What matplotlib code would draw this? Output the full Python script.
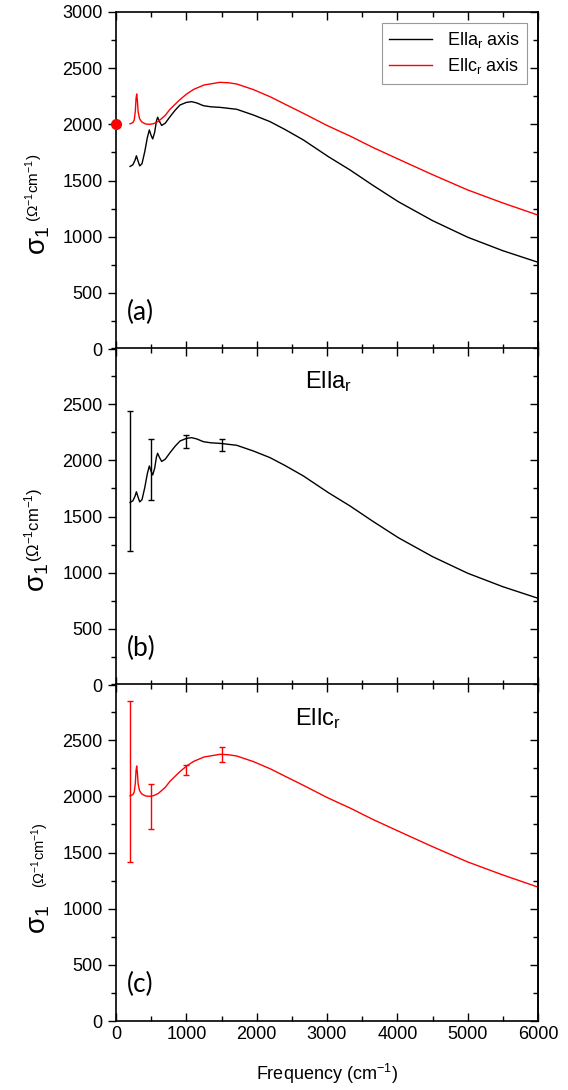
import matplotlib.pyplot as plt
import numpy as np
from matplotlib.ticker import MultipleLocator

plt.rcParams['font.family'] = ['Liberation Sans', 'DejaVu Sans']
plt.rcParams['mathtext.default'] = 'regular'

# sigma_1 along E || a_r (cm^-1, Ohm^-1 cm^-1)
freq_a = [200, 240, 270, 290, 310, 337, 370, 410, 445, 474, 500, 522, 550,
          575, 592, 615, 649, 700, 768, 840, 910, 1000, 1076, 1150, 1242,
          1350, 1479, 1716, 1953, 2190, 2400, 2664, 3020, 3327, 3650, 4015,
          4500, 5000, 5500, 6000]
sigma_a = [1625, 1640, 1680, 1720, 1680, 1630, 1650, 1760, 1880, 1950, 1900,
           1870, 1930, 2030, 2063, 2030, 1990, 2010, 2068, 2125, 2172, 2195,
           2202, 2190, 2166, 2156, 2151, 2134, 2083, 2024, 1955, 1861, 1712,
           1594, 1458, 1311, 1143, 995, 875, 772]

# sigma_1 along E || c_r
freq_c = [200, 240, 260, 275, 285, 294, 303, 315, 335, 365, 420, 480, 530,
          600, 700, 768, 900, 1000, 1100, 1250, 1479, 1600, 1716, 1950, 2190,
          2400, 2664, 3000, 3327, 3650, 4015, 4500, 5000, 5500, 6000]
sigma_c = [2005, 2015, 2040, 2120, 2230, 2270, 2220, 2110, 2050, 2022, 2003,
           2000, 2005, 2025, 2080, 2134, 2215, 2268, 2310, 2350, 2374, 2370,
           2359, 2310, 2246, 2180, 2098, 1990, 1896, 1795, 1690, 1552, 1416,
           1300, 1192]

# error bar ranges
err_x = [200, 500, 1000, 1500]
err_a_lo = [1196, 1647, 2107, 2083]
err_a_hi = [2442, 2187, 2226, 2190]
err_c_lo = [1414, 1712, 2187, 2306]
err_c_hi = [2846, 2113, 2282, 2439]

# dc conductivity
dc_x = [0]
dc_sigma = [2000]

W, H = 568, 1090
fig = plt.figure(figsize=(W / 100, H / 100), dpi=100)

left, width = 116 / W, 422 / W
bottoms = [349, 685, 1021]
axs = [fig.add_axes([left, 1 - b / H, width, 337 / H]) for b in bottoms]

for i, ax in enumerate(axs):
    ax.set_xlim(0, 6000)
    ax.set_ylim(0, 3000)
    ax.xaxis.set_major_locator(MultipleLocator(1000))
    ax.xaxis.set_minor_locator(MultipleLocator(500))
    ax.set_yticks([0, 500, 1000, 1500, 2000, 2500, 3000] if i == 0
                  else [0, 500, 1000, 1500, 2000, 2500])
    ax.yaxis.set_minor_locator(MultipleLocator(250))
    ax.tick_params(axis='x', which='both', direction='in', top=True,
                   labelbottom=(i == 2), labelsize=13)
    ax.tick_params(axis='y', which='both', direction='out', left=True,
                   right=False, labelsize=13)
    ax.tick_params(which='major', length=6, width=1)
    ax.tick_params(which='minor', length=3.5, width=1)
    for s in ax.spines.values():
        s.set_linewidth(1.2)
    # inward ticks on the right spine
    ry = ax.secondary_yaxis('right')
    ry.set_yticks(ax.get_yticks())
    ry.yaxis.set_minor_locator(MultipleLocator(250))
    ry.tick_params(which='both', direction='in', labelright=False, width=1)
    ry.tick_params(which='major', length=6)
    ry.tick_params(which='minor', length=3.5)
    ry.spines['right'].set_linewidth(1.2)

ax1, ax2, ax3 = axs

ax1.plot(freq_a, sigma_a, color='black', lw=1.0, label='Ella$_r$ axis')
ax1.plot(freq_c, sigma_c, color='red', lw=1.0, label='Ellc$_r$ axis')
ax1.plot(dc_x, dc_sigma, 'o', color='red', ms=7, clip_on=False, zorder=5)
leg = ax1.legend(loc='upper right', fontsize=13, fancybox=False,
                 framealpha=1, edgecolor='#999999', handlelength=2.4,
                 borderaxespad=0.6, labelspacing=0.35)
leg.get_frame().set_linewidth(0.8)

lo, hi = np.array(err_a_lo), np.array(err_a_hi)
ax2.plot(freq_a, sigma_a, color='black', lw=1.0)
ax2.errorbar(err_x, (lo + hi) / 2, yerr=(hi - lo) / 2, fmt='none',
             ecolor='black', elinewidth=1.0, capsize=2.5, capthick=1.0)

lo, hi = np.array(err_c_lo), np.array(err_c_hi)
ax3.plot(freq_c, sigma_c, color='red', lw=1.0)
ax3.errorbar(err_x, (lo + hi) / 2, yerr=(hi - lo) / 2, fmt='none',
             ecolor='red', elinewidth=1.0, capsize=2.5, capthick=1.0)

ax2.text(0.448, 0.90, 'Ella$_r$', transform=ax2.transAxes, fontsize=17,
         va='center', ha='left')
ax3.text(0.424, 0.896, 'Ellc$_r$', transform=ax3.transAxes, fontsize=17,
         va='center', ha='left')

for ax, tag in zip(axs, ['(a)', '(b)', '(c)']):
    ax.text(0.026, 0.107, tag, transform=ax.transAxes, fontsize=19,
            family=['Lato', 'DejaVu Sans'], va='center', ha='left')

ax3.set_xlabel('Frequency (cm$^{-1}$)', fontsize=13, labelpad=14)

# y labels: big sigma plus a smaller unit
sig_pos = [(39, 255), (38, 592), (39, 934)]
unit_pos = [(34, 222, 11), (34, 562, 12), (40, 888, 10.5)]
for (sx, sy), (ux, uy, us) in zip(sig_pos, unit_pos):
    fig.text(sx / W, 1 - sy / H, 'σ$_1$', rotation=90, fontsize=20,
             ha='center', va='bottom')
    fig.text(ux / W, 1 - uy / H, '(Ω$^{-1}$cm$^{-1}$)', rotation=90,
             fontsize=us, ha='center', va='bottom')

fig.savefig('out.png', dpi=100)
